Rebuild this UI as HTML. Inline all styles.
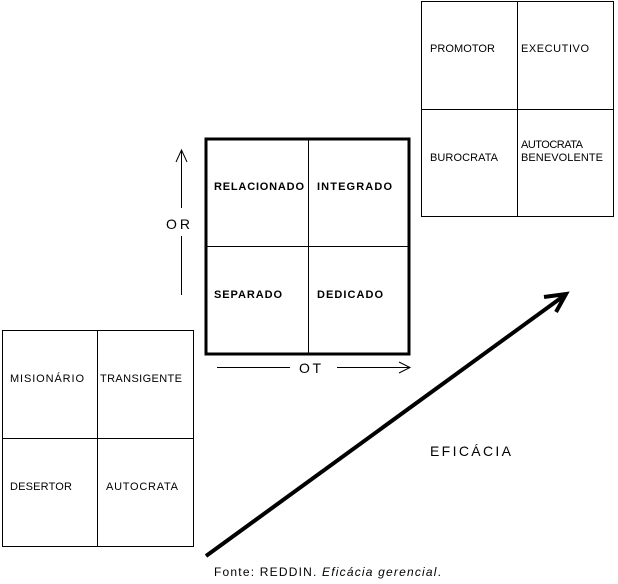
<!DOCTYPE html>
<html><head><style>body{margin:0;background:#fff}svg{display:block}</style></head><body>
<svg width="618" height="584" xmlns="http://www.w3.org/2000/svg" font-family="Liberation Sans, sans-serif">
<g fill="none" stroke="#000" stroke-width="1">
<rect x="421.5" y="1.5" width="192" height="215"/>
<line x1="517.5" y1="1" x2="517.5" y2="216"/>
<line x1="421" y1="109.5" x2="613" y2="109.5"/>
<rect x="2.5" y="330.5" width="191" height="216"/>
<line x1="97.5" y1="330" x2="97.5" y2="546"/>
<line x1="2" y1="438.5" x2="193" y2="438.5"/>
<rect x="206" y="139" width="203" height="215" stroke-width="3"/>
<line x1="308.5" y1="139" x2="308.5" y2="354"/>
<line x1="206" y1="246.5" x2="409" y2="246.5"/>
<line x1="181.5" y1="150" x2="181.5" y2="208"/>
<line x1="181.5" y1="236" x2="181.5" y2="295"/>
<polyline points="176,162 181.5,150 187,162"/>
<line x1="217" y1="367.5" x2="290" y2="367.5"/>
<line x1="337" y1="367.5" x2="410" y2="367.5"/>
<polyline points="399,362 410,367.5 399,373"/>
<line x1="206" y1="556" x2="565" y2="295" stroke-width="4"/>
<polyline points="544,297 566,294 556,312" stroke-width="4"/>
</g>
<g font-size="11" fill="#000">
<text x="430" y="52" textLength="65">PROMOTOR</text>
<text x="521" y="52" textLength="68">EXECUTIVO</text>
<text x="430" y="161" textLength="68">BUROCRATA</text>
<text x="521" y="148" textLength="62">AUTOCRATA</text>
<text x="521" y="161" textLength="82">BENEVOLENTE</text>
<text x="10" y="382" textLength="74">MISIONÁRIO</text>
<text x="100" y="382" textLength="82">TRANSIGENTE</text>
<text x="10" y="490" textLength="62">DESERTOR</text>
<text x="106" y="490" textLength="72">AUTOCRATA</text>
</g>
<g font-size="11" font-weight="bold" fill="#000">
<text x="214" y="190" textLength="90">RELACIONADO</text>
<text x="317" y="190" textLength="75">INTEGRADO</text>
<text x="214" y="298" textLength="68">SEPARADO</text>
<text x="317" y="298" textLength="66">DEDICADO</text>
</g>
<text x="166" y="229" font-size="14" textLength="24">OR</text>
<text x="299" y="373" font-size="14" textLength="22">OT</text>
<text x="430" y="456" font-size="14" textLength="81">EFICÁCIA</text>
<text x="214" y="576" font-size="12" textLength="227">Fonte: REDDIN. <tspan font-style="italic">Eficácia gerencial</tspan>.</text>
</svg>
</body></html>
